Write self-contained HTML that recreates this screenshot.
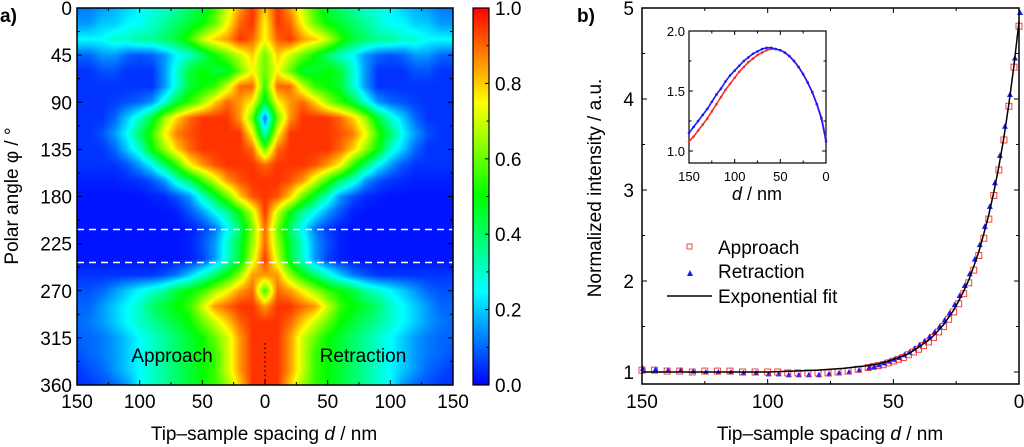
<!DOCTYPE html>
<html><head><meta charset="utf-8">
<style>
html,body{margin:0;padding:0;background:#fff;}
body{width:1024px;height:447px;overflow:hidden;position:relative;font-family:"Liberation Sans",Arial,sans-serif;}
#hm{position:absolute;left:77px;top:8px;}
svg{position:absolute;left:0;top:0;}
</style></head>
<body>
<canvas id="hm" width="376" height="377"></canvas>
<svg id="s" width="1024" height="447"></svg>
<script>
// ---------- Panel a data ----------
const hmAngles=[0,15,30,45,60,75,90,105,120,135,150,165,180,195,210,225,240,255,270,285,300,315,330,345,360];
const hmDist=[0,10,20,30,40,50,60,70,80,90,100,110,120,130,140,150];
const hmValues=[
[0.8,0.95,0.85,0.7,0.55,0.45,0.4,0.35,0.3,0.28,0.25,0.2,0.18,0.15,0.12,0.12],
[0.75,0.95,0.9,0.75,0.6,0.5,0.45,0.4,0.35,0.3,0.25,0.25,0.2,0.2,0.15,0.15],
[0.75,0.9,0.95,0.85,0.8,0.7,0.55,0.45,0.4,0.35,0.35,0.3,0.3,0.25,0.25,0.25],
[0.6,0.8,0.7,0.6,0.5,0.4,0.3,0.25,0.15,0.1,0.08,0.1,0.15,0.15,0.1,0.1],
[0.6,0.75,0.6,0.45,0.45,0.5,0.45,0.3,0.15,0.05,0.05,0.05,0.08,0.08,0.05,0.05],
[0.55,0.9,0.9,0.7,0.55,0.5,0.45,0.3,0.15,0.05,0.05,0.05,0.05,0.05,0.05,0.05],
[0.45,0.75,0.85,0.9,0.8,0.65,0.55,0.45,0.3,0.15,0.1,0.08,0.06,0.05,0.05,0.05],
[0.1,0.6,0.85,0.95,0.95,0.95,0.9,0.8,0.65,0.45,0.3,0.2,0.1,0.05,0.05,0.05],
[0.3,0.75,0.95,0.95,0.95,0.95,0.92,0.88,0.75,0.55,0.4,0.25,0.15,0.08,0.05,0.05],
[0.6,0.9,0.95,0.95,0.95,0.95,0.9,0.8,0.65,0.5,0.3,0.2,0.1,0.05,0.05,0.05],
[0.9,0.95,0.95,0.95,0.92,0.85,0.75,0.55,0.4,0.25,0.15,0.08,0.05,0.05,0.05,0.05],
[0.95,0.95,0.92,0.85,0.7,0.55,0.4,0.3,0.15,0.08,0.05,0.04,0.03,0.03,0.03,0.03],
[0.95,0.92,0.8,0.6,0.45,0.3,0.15,0.08,0.04,0.03,0.02,0.02,0.02,0.02,0.02,0.02],
[0.95,0.7,0.5,0.35,0.25,0.15,0.08,0.03,0.02,0.02,0.02,0.02,0.02,0.02,0.02,0.02],
[0.9,0.62,0.4,0.25,0.12,0.06,0.03,0.02,0.02,0.02,0.02,0.02,0.02,0.02,0.02,0.02],
[0.9,0.65,0.45,0.3,0.15,0.08,0.03,0.02,0.02,0.02,0.02,0.02,0.02,0.02,0.02,0.02],
[0.95,0.7,0.45,0.3,0.15,0.06,0.03,0.02,0.02,0.02,0.02,0.02,0.02,0.02,0.02,0.02],
[0.85,0.85,0.65,0.5,0.4,0.3,0.2,0.12,0.08,0.05,0.05,0.05,0.05,0.05,0.05,0.05],
[0.55,0.9,0.85,0.75,0.65,0.55,0.5,0.45,0.35,0.3,0.25,0.2,0.15,0.1,0.08,0.08],
[0.85,0.95,0.95,0.9,0.85,0.7,0.55,0.5,0.45,0.4,0.3,0.25,0.2,0.15,0.1,0.1],
[0.95,0.95,0.9,0.8,0.7,0.6,0.5,0.45,0.4,0.35,0.3,0.25,0.2,0.15,0.12,0.1],
[0.95,0.95,0.85,0.7,0.6,0.5,0.45,0.4,0.35,0.3,0.25,0.2,0.15,0.12,0.1,0.1],
[0.95,0.95,0.85,0.7,0.55,0.5,0.45,0.4,0.35,0.3,0.25,0.2,0.15,0.12,0.1,0.08],
[0.95,0.95,0.85,0.7,0.55,0.5,0.45,0.4,0.35,0.3,0.25,0.2,0.15,0.1,0.08,0.05],
[0.95,0.95,0.8,0.65,0.55,0.5,0.45,0.4,0.35,0.3,0.25,0.15,0.1,0.08,0.05,0.05]];
const dashAngles=[211.5,243];
const aXTicks=[150,100,50,0,50,100,150];
const aYTicks=[0,45,90,135,180,225,270,315,360];
const cbTicks=["0.0","0.2","0.4","0.6","0.8","1.0"];

// ---------- Panel b data ----------
const mainD=[0,2,4,6,8,10,12,14,16,18,20,22,24,26,28,30,32,34,36,38,40,42,44,46,48,50,52,54,56,58,60,64,68,72,76,80,84,88,92,96,100,105,110,115,120,125,130,135,140,145,150];
const approachI=[4.80,4.35,3.92,3.55,3.22,2.94,2.68,2.47,2.28,2.12,1.98,1.86,1.75,1.66,1.58,1.50,1.44,1.38,1.33,1.29,1.25,1.22,1.19,1.16,1.14,1.12,1.10,1.08,1.07,1.06,1.05,1.03,1.01,1.00,0.99,0.99,0.99,0.99,0.99,1.00,1.00,1.00,1.00,1.01,1.01,1.01,1.00,1.01,1.01,1.02,1.02];
const retractionI=[4.95,4.45,4.05,3.70,3.38,3.08,2.82,2.60,2.40,2.24,2.08,1.95,1.84,1.74,1.65,1.57,1.50,1.44,1.39,1.34,1.30,1.26,1.22,1.19,1.16,1.14,1.12,1.10,1.08,1.06,1.05,1.02,1.00,0.99,0.98,0.97,0.97,0.97,0.97,0.98,0.98,0.99,0.99,1.00,1.00,1.00,1.01,1.02,1.02,1.03,1.04];
const fitD=[0,2,4,6,8,10,12,14,16,18,20,22,24,26,28,30,32,34,36,38,40,44,48,52,56,60,70,80,90,100,110,120,130,140,150];
const fitI=[4.85,4.37,3.95,3.58,3.26,2.98,2.73,2.52,2.32,2.16,2.01,1.89,1.78,1.68,1.60,1.52,1.46,1.40,1.35,1.31,1.27,1.20,1.16,1.12,1.09,1.07,1.04,1.02,1.01,1.0,1.0,1.0,1.0,1.0,1.0];
const bXTicks=[150,100,50,0];
const bYTicks=[1,2,3,4,5];
const insetD=[150,145,140,135,130,125,120,115,110,105,100,95,90,85,80,75,70,65,60,55,50,45,40,35,30,25,20,15,10,5,0];
const insetApproach=[1.08,1.12,1.17,1.22,1.27,1.33,1.39,1.45,1.51,1.56,1.61,1.66,1.70,1.74,1.77,1.80,1.82,1.84,1.85,1.85,1.84,1.82,1.79,1.75,1.70,1.64,1.57,1.49,1.39,1.28,1.10];
const insetRetraction=[1.15,1.20,1.25,1.30,1.35,1.41,1.47,1.52,1.58,1.63,1.67,1.71,1.75,1.78,1.81,1.83,1.85,1.86,1.86,1.85,1.84,1.82,1.79,1.75,1.70,1.64,1.57,1.49,1.39,1.27,1.08];
const insetXTicks=[150,100,50,0];
const insetYTicks=["1.0","1.5","2.0"];

// ---------- helpers ----------
const NS="http://www.w3.org/2000/svg";
const svg=document.getElementById('s');
function mk(tag,attrs,parent){const e=document.createElementNS(NS,tag);for(const k in attrs)e.setAttribute(k,attrs[k]);(parent||svg).appendChild(e);return e;}
function txt(s,x,y,size,anchor,extra){const e=mk('text',Object.assign({x:x,y:y,'font-size':size,'text-anchor':anchor||'middle','font-family':'Liberation Sans, Arial, sans-serif',fill:'#000'},extra||{}));e.textContent=s;return e;}
function jet(v){v=Math.max(0,Math.min(1,v));
 let r,g,b;
 if(v<0.25){r=0;g=v/0.25;b=1;}
 else if(v<0.5){r=0;g=1;b=1-(v-0.25)/0.25;}
 else if(v<0.75){r=(v-0.5)/0.25;g=1;b=0;}
 else {r=1;g=1-(v-0.75)/0.25;b=0;}
 return [Math.round(r*255),Math.round(g*255),Math.round(b*255)];}

// ---------- panel a axes ----------
const AX0=77,AX1=453,AY0=8,AY1=385;
const aMid=(AX0+AX1)/2;
function ay(a){return AY0+(a/360)*(AY1-AY0);}

(function(){
 const c=document.getElementById('hm').getContext('2d');
 const W=376,H=377,img=c.createImageData(W,H);
 for(let py=0;py<H;py++){
  const ang=(py+0.5)/H*360;
  let r=Math.min(hmAngles.length-2,Math.floor(ang/15));
  const fr=(ang-hmAngles[r])/(hmAngles[r+1]-hmAngles[r]);
  for(let px=0;px<W;px++){
   const X=AX0+px+0.5;
   const d=Math.min(150,Math.abs(X-aMid)/(aMid-AX0)*150);
   let ci=Math.min(hmDist.length-2,Math.floor(d/10));
   const fc=(d-hmDist[ci])/(hmDist[ci+1]-hmDist[ci]);
   const v=(hmValues[r][ci]*(1-fc)+hmValues[r][ci+1]*fc)*(1-fr)+(hmValues[r+1][ci]*(1-fc)+hmValues[r+1][ci+1]*fc)*fr;
   const col=jet(v),i=(py*W+px)*4;
   img.data[i]=col[0];img.data[i+1]=col[1];img.data[i+2]=col[2];img.data[i+3]=255;
  }
 }
 c.putImageData(img,0,0);
})();

const ga=mk('g',{});


dashAngles.forEach(a=>{const l=mk('line',{x1:AX0,x2:AX1,y1:ay(a),y2:ay(a),stroke:'#fff','stroke-width':1.5,'stroke-dasharray':'7,5'},ga);
 });
const cl=mk('line',{x1:aMid,x2:aMid,y1:ay(320),y2:AY1,stroke:'#000','stroke-width':1.2,'stroke-dasharray':'1.5,3'},ga);

mk('rect',{x:AX0,y:AY0,width:AX1-AX0,height:AY1-AY0,fill:'none',stroke:'#000','stroke-width':1.5},ga);
aXTicks.forEach((t,i)=>{const x=AX0+i*(AX1-AX0)/6;
 mk('line',{x1:x,x2:x,y1:AY1,y2:AY1-5,stroke:'#000'},ga);mk('line',{x1:x,x2:x,y1:AY0,y2:AY0+5,stroke:'#000'},ga);
 if(i<6){const xm=x+(AX1-AX0)/12;mk('line',{x1:xm,x2:xm,y1:AY1,y2:AY1-3,stroke:'#000'},ga);mk('line',{x1:xm,x2:xm,y1:AY0,y2:AY0+3,stroke:'#000'},ga);}
 const e=txt(String(t),x,408,19);});
aYTicks.forEach((t,i)=>{const y=ay(t);
 mk('line',{x1:AX0,x2:AX0+5,y1:y,y2:y,stroke:'#000'},ga);mk('line',{x1:AX1,x2:AX1-5,y1:y,y2:y,stroke:'#000'},ga);
 if(i<8){const ym=ay(t+22.5);mk('line',{x1:AX0,x2:AX0+3,y1:ym,y2:ym,stroke:'#000'},ga);mk('line',{x1:AX1,x2:AX1-3,y1:ym,y2:ym,stroke:'#000'},ga);}
 const e=txt(String(t),72,y+7,19,'end');});
let e;
e=txt('Approach',172,362,19);
e=txt('Retraction',363,362,19);
e=mk('text',{x:264,y:440,'font-size':19,'text-anchor':'middle','font-family':'Liberation Sans, Arial, sans-serif'});
e.innerHTML='Tip–sample spacing <tspan font-style="italic">d</tspan> / nm';

e=txt('Polar angle φ / °',0,0,19,'middle',{transform:'translate(18,196) rotate(-90)'});

e=txt('a)',0,22,19,'start',{'font-weight':'bold'});

// colorbar
const defs=mk('defs',{});
const lg=mk('linearGradient',{id:'jet',x1:0,y1:1,x2:0,y2:0},defs);
for(let i=0;i<=20;i++){const c=jet(i/20);mk('stop',{offset:i/20,'stop-color':`rgb(${c[0]},${c[1]},${c[2]})`},lg);}
const CB0=473,CB1=489;
const cb=mk('rect',{x:CB0,y:AY0,width:CB1-CB0,height:AY1-AY0,fill:'url(#jet)',stroke:'#000','stroke-width':1.2});

cbTicks.forEach((t,i)=>{const y=AY1-i*(AY1-AY0)/5;
 mk('line',{x1:CB1,x2:CB1-4,y1:y,y2:y,stroke:'#000'});
 if(i<5){const ym=y-(AY1-AY0)/10;mk('line',{x1:CB1,x2:CB1-2.5,y1:ym,y2:ym,stroke:'#000'});}
 const e=txt(t,495,y+7,19,'start');});

// ---------- panel b ----------
const BX0=642,BX1=1019,BY0=8,BY1=384;
function bx(d){return BX1-(d/150)*(BX1-BX0);}
function by(v){return 372-(v-1)*91;}
const gb=mk('g',{});


mainD.forEach((d,i)=>{
 const x=bx(d)+1,y=by(retractionI[i]);
 const p=mk('polygon',{points:`${x-3},${y+2.5} ${x+3},${y+2.5} ${x},${y-3}`,fill:'#1a1aff'},gb);
 
 const r=mk('rect',{x:bx(d)-3,y:by(approachI[i])-3,width:6,height:6,fill:'none',stroke:'#f03030','stroke-width':0.9},gb);
 
});
const fl=mk('polyline',{points:fitD.map((d,i)=>bx(d)+','+by(fitI[i])).join(' '),fill:'none',stroke:'#000','stroke-width':1.5},gb);

mk('rect',{x:BX0,y:BY0,width:BX1-BX0,height:BY1-BY0,fill:'none',stroke:'#000','stroke-width':1.5},gb);
bXTicks.forEach((t)=>{const x=bx(t);
 mk('line',{x1:x,x2:x,y1:BY1,y2:BY1-5,stroke:'#000'},gb);mk('line',{x1:x,x2:x,y1:BY0,y2:BY0+5,stroke:'#000'},gb);
 if(t>0){const xm=bx(t-25);mk('line',{x1:xm,x2:xm,y1:BY1,y2:BY1-3,stroke:'#000'},gb);mk('line',{x1:xm,x2:xm,y1:BY0,y2:BY0+3,stroke:'#000'},gb);}
 const e=txt(String(t),x,408,19);});
bYTicks.forEach((t)=>{const y=by(t);
 mk('line',{x1:BX0,x2:BX0+5,y1:y,y2:y,stroke:'#000'},gb);mk('line',{x1:BX1,x2:BX1-5,y1:y,y2:y,stroke:'#000'},gb);
 if(t<5){const ym=by(t+0.5);mk('line',{x1:BX0,x2:BX0+3,y1:ym,y2:ym,stroke:'#000'},gb);mk('line',{x1:BX1,x2:BX1-3,y1:ym,y2:ym,stroke:'#000'},gb);}
 const e=txt(String(t),634,y+7,19,'end');});
e=mk('text',{x:830,y:440,'font-size':19,'text-anchor':'middle','font-family':'Liberation Sans, Arial, sans-serif'});
e.innerHTML='Tip–sample spacing <tspan font-style="italic">d</tspan> / nm';

e=txt('Normalized intensity / a.u.',0,0,19,'middle',{transform:'translate(601,188) rotate(-90)'});

e=txt('b)',577,22,19,'start',{'font-weight':'bold'});
// legend
const lgd=mk('g',{});


mk('rect',{x:687,y:244,width:5,height:5,fill:'none',stroke:'#f03030','stroke-width':0.9},lgd);
mk('polygon',{points:'687,276 693,276 690,270',fill:'#1a1aff'},lgd);
mk('line',{x1:667,x2:712,y1:296,y2:296,stroke:'#000','stroke-width':1.5},lgd);
e=txt('Approach',718,254,19,'start');lgd.appendChild(e);
e=txt('Retraction',718,278,19,'start');lgd.appendChild(e);
e=txt('Exponential fit',718,303,19,'start');lgd.appendChild(e);
// inset
const IX0=689,IX1=826,IY0=31,IY1=163;
function ix(d){return IX1-(d/150)*(IX1-IX0);}
function iy(v){return 151-(v-1)*120;}
const gi=mk('g',{});


mk('rect',{x:IX0,y:IY0,width:IX1-IX0,height:IY1-IY0,fill:'#fff',stroke:'#000','stroke-width':1.2},gi);
insetD.forEach((d,i)=>{
 const a=mk('circle',{cx:ix(d),cy:iy(insetApproach[i]),r:1.3,fill:'#f03030'},gi);
 
 const b=mk('circle',{cx:ix(d),cy:iy(insetRetraction[i]),r:1.3,fill:'#1a1aff'},gi);
 
});
mk('polyline',{points:insetD.map((d,i)=>ix(d)+','+iy(insetApproach[i])).join(' '),fill:'none',stroke:'#f03030','stroke-width':1.6},gi);
mk('polyline',{points:insetD.map((d,i)=>ix(d)+','+iy(insetRetraction[i])).join(' '),fill:'none',stroke:'#1a1aff','stroke-width':1.6},gi);
insetXTicks.forEach(t=>{const x=ix(t);
 mk('line',{x1:x,x2:x,y1:IY1,y2:IY1-4,stroke:'#000'},gi);mk('line',{x1:x,x2:x,y1:IY0,y2:IY0+4,stroke:'#000'},gi);
 if(t>0){const xm=ix(t-25);mk('line',{x1:xm,x2:xm,y1:IY1,y2:IY1-2.5,stroke:'#000'},gi);mk('line',{x1:xm,x2:xm,y1:IY0,y2:IY0+2.5,stroke:'#000'},gi);}
 const e=txt(String(t),x,181,13);});
insetYTicks.forEach(t=>{const y=iy(parseFloat(t));
 mk('line',{x1:IX0,x2:IX0+4,y1:y,y2:y,stroke:'#000'},gi);mk('line',{x1:IX1,x2:IX1-4,y1:y,y2:y,stroke:'#000'},gi);
 const e=txt(t,685,y+5,13,'end');});
[1.25,1.75].forEach(v=>{const y=iy(v);mk('line',{x1:IX0,x2:IX0+2.5,y1:y,y2:y,stroke:'#000'},gi);mk('line',{x1:IX1,x2:IX1-2.5,y1:y,y2:y,stroke:'#000'},gi);});
e=mk('text',{x:757,y:200,'font-size':18,'text-anchor':'middle','font-family':'Liberation Sans, Arial, sans-serif'},gi);
e.innerHTML='<tspan font-style="italic">d</tspan> / nm';

</script>
</body></html>
